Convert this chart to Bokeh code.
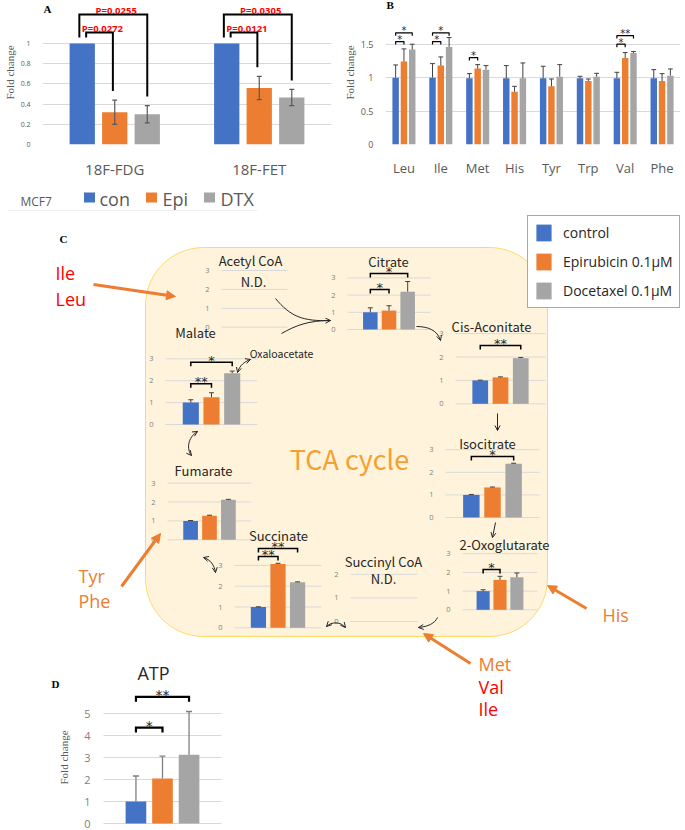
import numpy as np
from bokeh.plotting import figure
from bokeh.layouts import column, row
from bokeh.models import (Range1d, FactorRange, FixedTicker, Arrow, OpenHead, NormalHead,
                          Legend, LegendItem, ColumnDataSource, Label)
from bokeh.core.properties import value, field
from bokeh.embed import file_html
from bokeh.resources import INLINE

# ======================= DATA =======================
series_labels = ["control", "Epirubicin 0.1μM", "Docetaxel 0.1μM"]
series_short = ["con", "Epi", "DTX"]

# Panel A : PET tracer uptake (fold change)
tracers = ["18F-FDG", "18F-FET"]
a_con = [1.0, 1.0]
a_epi = [0.32, 0.56]
a_dtx = [0.30, 0.465]
a_con_err = [0.0, 0.0]
a_epi_err = [0.12, 0.115]
a_dtx_err = [0.085, 0.08]
a_p_epi = ["P=0.0272", "P=0.0121"]
a_p_dtx = ["P=0.0255", "P=0.0305"]

# Panel B : amino acids (fold change)
amino = ["Leu", "Ile", "Met", "His", "Tyr", "Trp", "Val", "Phe"]
b_con = [1.00, 1.00, 0.99, 0.99, 0.99, 0.99, 0.99, 0.99]
b_epi = [1.24, 1.18, 1.135, 0.79, 0.87, 0.95, 1.295, 0.95]
b_dtx = [1.42, 1.46, 1.12, 0.99, 1.015, 1.015, 1.37, 1.03]
b_con_err = [0.19, 0.21, 0.07, 0.19, 0.18, 0.03, 0.09, 0.13]
b_epi_err = [0.19, 0.13, 0.06, 0.08, 0.11, 0.03, 0.08, 0.11]
b_dtx_err = [0.08, 0.14, 0.06, 0.23, 0.18, 0.05, 0.02, 0.10]
b_sig = [("Leu", 1, "*"), ("Leu", 2, "*"), ("Ile", 1, "*"), ("Ile", 2, "*"),
         ("Met", 1, "*"), ("Val", 1, "*"), ("Val", 2, "**")]

# Panel C : TCA cycle metabolites (None = not detected)
metabolites = ["Acetyl CoA", "Citrate", "Cis-Aconitate", "Isocitrate", "2-Oxoglutarate",
               "Succinyl CoA", "Succinate", "Fumarate", "Malate"]
c_con = [None, 1.00, 1.00, 1.00, 1.00, None, 1.00, 1.00, 1.00]
c_epi = [None, 1.10, 1.13, 1.33, 1.60, None, 3.07, 1.27, 1.25]
c_dtx = [None, 2.20, 1.95, 2.38, 1.74, None, 2.19, 2.12, 2.34]
c_con_err = [None, 0.26, 0.01, 0.02, 0.07, None, 0.01, 0.02, 0.13]
c_epi_err = [None, 0.28, 0.02, 0.02, 0.19, None, 0.03, 0.03, 0.20]
c_dtx_err = [None, 0.59, 0.03, 0.02, 0.23, None, 0.02, 0.02, 0.10]
c_sig = [("Citrate", 1, "*"), ("Citrate", 2, "*"), ("Cis-Aconitate", 2, "**"),
         ("Isocitrate", 2, "*"), ("2-Oxoglutarate", 1, "*"), ("Succinate", 1, "**"),
         ("Succinate", 2, "**"), ("Malate", 1, "**"), ("Malate", 2, "*")]

# Panel D : ATP
atp = [1.00, 2.05, 3.13]
atp_err = [1.16, 1.01, 1.96]
d_sig = [(1, "*"), (2, "**")]

# ======================= STYLE / LAYOUT =======================
BLUE, ORANGE, GRAY = "#4472C4", "#ED7D31", "#A5A5A5"
COLORS = [BLUE, ORANGE, GRAY]
RED = "#FF0000"
GRID = "#D9D9D9"
OFF = [-0.225, 0.0, 0.225]
BW = 0.175
SANS = "Open Sans"
JP = "Noto Sans CJK JP"
SERIF = "Liberation Serif"
STAR = "DejaVu Sans"

A_LEVEL = {1: 1.11, 2: 1.287}
A_LEG_SHIFT = {1: (0.027, -0.013), 2: (-0.02, 0.0)}
B_LEVEL = {("Leu", 1): 1.54, ("Leu", 2): 1.67, ("Ile", 1): 1.54, ("Ile", 2): 1.67,
           ("Met", 1): 1.30, ("Val", 1): 1.50, ("Val", 2): 1.63}

# canvas for panels C and D uses page pixel coordinates
CX0, CX1, CY0, CY1 = 0, 685, 185, 830
MINI = {
    "Acetyl CoA":     dict(gx=(221, 287), base=326.7, u=18.9, nt=3, title=(250, 260)),
    "Citrate":        dict(gx=(347, 430), base=329.0, u=17.2, nt=3, title=(388, 261)),
    "Cis-Aconitate":  dict(gx=(455, 545), base=403.3, u=23.4, nt=3, title=(491, 326)),
    "Isocitrate":     dict(gx=(445, 539), base=517.0, u=22.6, nt=3, title=(487, 443)),
    "2-Oxoglutarate": dict(gx=(462, 537), base=609.3, u=18.7, nt=3, title=(504, 544)),
    "Succinyl CoA":   dict(gx=(350, 417), base=621.0, u=23.6, nt=2, title=(383, 561)),
    "Succinate":      dict(gx=(234, 321), base=627.3, u=20.8, nt=3, title=(278, 535)),
    "Fumarate":       dict(gx=(167, 251), base=539.3, u=18.9, nt=3, title=(203, 470)),
    "Malate":         dict(gx=(165, 257), base=424.0, u=21.9, nt=3, title=(195, 332)),
}
ND_POS = {"Acetyl CoA": (253, 281), "Succinyl CoA": (383, 578)}
C_LEVEL = {("Citrate", 1): 2.33, ("Citrate", 2): 3.26, ("Cis-Aconitate", 2): 2.49,
           ("Isocitrate", 2): 2.70, ("2-Oxoglutarate", 1): 2.16, ("Succinate", 1): 3.43,
           ("Succinate", 2): 3.81, ("Malate", 1): 1.86, ("Malate", 2): 2.84}
D_LAYOUT = dict(gx=(103, 221), base=823.0, u=22.0, nt=5)
D_LEVEL = {1: 4.36, 2: 5.76}

MINI_ST = dict(tick_dx=12, tick_size="7.5px", err_color="#404040", err_w=1, cap=2.5,
               leg=4, br_w=1.5, star_size="13px", star_dy=2)
D_ST = dict(tick_dx=13, tick_size="11px", err_color="#808080", err_w=1.3, cap=3,
            leg=5, br_w=2.2, star_size="14px", star_dy=2)

CURVES = [  # x0,y0, cx0,cy0, cx1,cy1, x1,y1, head_at_start, head_at_end
    (275, 298, 290, 316, 302, 321, 330, 320, False, True),
    (281, 333, 295, 325, 308, 320, 330, 320, False, False),
    (416, 326, 428, 326, 437, 330, 440, 340, False, True),
    (497, 413, 497, 419, 497, 424, 497, 430, False, True),
    (495, 522, 494, 527, 493, 532, 492, 537, False, True),
    (437, 617, 434, 623, 428, 626, 418, 627, False, True),
    (345, 627, 340, 621, 331, 621, 326, 626, True, True),
    (203, 557, 210, 559, 214, 565, 215, 572, True, True),
    (197, 431, 187, 437, 186, 449, 191, 455, True, True),
    (237, 372, 239, 365, 244, 361, 250, 359, True, True),
]
ORANGE_ARROWS = [(93, 284, 175, 296), (121, 586, 160, 533), (586, 608, 547, 585), (470, 663, 423, 633)]
SIDE_TEXT = [("Ile", 55, 272, RED), ("Leu", 55, 298, RED), ("Tyr", 78, 575, ORANGE),
             ("Phe", 78, 600, ORANGE), ("His", 602, 614, ORANGE), ("Met", 478, 663, ORANGE),
             ("Val", 478, 686, RED), ("Ile", 478, 708, RED)]


def fig(**kw):
    p = figure(output_backend="svg", toolbar_location=None, **kw)
    p.outline_line_color = None
    p.background_fill_color = "white"
    p.border_fill_color = "white"
    return p


def style_axes(p, ticks, tick_size, xlab_size, xlab_standoff, ylab_size, overrides):
    tk = FixedTicker(ticks=ticks)
    p.yaxis.ticker = tk
    p.ygrid.ticker = tk
    p.ygrid.grid_line_color = GRID
    p.xgrid.grid_line_color = None
    p.yaxis.major_label_overrides = overrides
    for ax in (p.xaxis[0], p.yaxis[0]):
        ax.axis_line_color = None
        ax.major_tick_line_color = None
        ax.minor_tick_line_color = None
        ax.major_label_text_color = "#595959"
        ax.major_label_text_font = SANS
    p.yaxis.major_label_text_font_size = tick_size
    p.yaxis.major_label_standoff = 6
    p.xaxis.major_label_text_font_size = xlab_size
    p.xaxis.major_label_standoff = xlab_standoff
    p.yaxis.axis_label = "Fold change"
    p.yaxis.axis_label_text_font = SERIF
    p.yaxis.axis_label_text_font_style = "normal"
    p.yaxis.axis_label_text_font_size = ylab_size
    p.yaxis.axis_label_text_color = "#595959"
    p.yaxis.axis_label_standoff = 2


def panel_letter(p, letter, sx, sy):
    p.add_layout(Label(x=sx, y=sy, x_units="screen", y_units="screen", text=letter,
                       text_align="left", text_baseline="middle", text_font=SERIF,
                       text_font_size="11px", text_font_style="bold", text_color="black"))


# ======================= PANEL A =======================
pa = fig(width=340, height=185, x_range=FactorRange(*tracers, range_padding=0),
         y_range=Range1d(0, 1.426), min_border_left=30, min_border_right=9,
         min_border_top=0, min_border_bottom=41)
style_axes(pa, [0, 0.2, 0.4, 0.6, 0.8, 1], "7px", "15px", 8, "11px", {0: "0", 1: "1"})
a_sets = [(a_con, a_con_err), (a_epi, a_epi_err), (a_dtx, a_dtx_err)]
for j, (vals, errs) in enumerate(a_sets):
    xs = [i + 0.5 + OFF[j] for i in range(len(tracers))]
    pa.vbar(x=xs, top=vals, width=BW, fill_color=COLORS[j], line_color=None)
    ex = [x for x, e in zip(xs, errs) if e > 0]
    lo = [v - e for v, e in zip(vals, errs) if e > 0]
    hi = [v + e for v, e in zip(vals, errs) if e > 0]
    if ex:
        cap = 0.017
        pa.segment(x0=ex, y0=lo, x1=ex, y1=hi, line_color="#595959", line_width=1.2)
        pa.segment(x0=[x - cap for x in ex], y0=hi, x1=[x + cap for x in ex], y1=hi,
                   line_color="#595959", line_width=1.2)
        pa.segment(x0=[x - cap for x in ex], y0=lo, x1=[x + cap for x in ex], y1=lo,
                   line_color="#595959", line_width=1.2)
for i in range(len(tracers)):
    for j, plab in ((1, a_p_epi[i]), (2, a_p_dtx[i])):
        vals, errs = a_sets[j]
        xl = i + 0.5 + OFF[0] + A_LEG_SHIFT[j][0]
        xr = i + 0.5 + OFF[j] + A_LEG_SHIFT[j][1]
        lev = A_LEVEL[j]
        pa.line(x=[xl, xl, xr, xr], y=[a_con[i] + 0.06, lev, lev, vals[i] + errs[i] + 0.09],
                line_color="black", line_width=2, line_join="miter")
        pa.text(x=[(xl + xr) / 2 + 0.02], y=[lev + 0.038], text=[plab], text_align="center",
                text_baseline="alphabetic", text_font=value(SANS), text_font_size="9.5px",
                text_font_style="bold", text_color=RED)
panel_letter(pa, "A", 1, 136)

# ======================= PANEL B =======================
pb = fig(width=345, height=185, x_range=FactorRange(*amino, range_padding=0),
         y_range=Range1d(0, 2.154), min_border_left=37, min_border_right=5,
         min_border_top=0, min_border_bottom=37)
style_axes(pb, [0, 0.5, 1, 1.5], "9px", "13px", 8, "11px", {0: "0", 1: "1"})
b_sets = [(b_con, b_con_err), (b_epi, b_epi_err), (b_dtx, b_dtx_err)]
for j, (vals, errs) in enumerate(b_sets):
    xs = [i + 0.5 + OFF[j] for i in range(len(amino))]
    pb.vbar(x=xs, top=vals, width=BW, fill_color=COLORS[j], line_color=None)
    hi = [v + e for v, e in zip(vals, errs)]
    cap = 0.065
    pb.segment(x0=xs, y0=vals, x1=xs, y1=hi, line_color="#404040", line_width=1)
    pb.segment(x0=[x - cap for x in xs], y0=hi, x1=[x + cap for x in xs], y1=hi,
               line_color="#404040", line_width=1)
for cat, j, lab in b_sig:
    i = amino.index(cat)
    lev = B_LEVEL[(cat, j)]
    x0 = i + 0.5 + OFF[0]
    x1 = i + 0.5 + OFF[j]
    pb.line(x=[x0, x0, x1, x1], y=[lev - 0.045, lev, lev, lev - 0.045], line_color="black",
            line_width=1.2)
    pb.text(x=[(x0 + x1) / 2], y=[lev + 0.03], text=[lab], text_align="center",
            text_baseline="middle", text_font=value(STAR), text_font_size="10px",
            text_color="#262626")
panel_letter(pb, "B", 1, 140)

# ======================= PANELS C + D (canvas) =======================
pc = fig(width=685, height=645, x_range=Range1d(CX0, CX1), y_range=Range1d(CY1, CY0),
         min_border=0, min_border_left=0, min_border_right=0, min_border_top=0,
         min_border_bottom=0, x_axis_type=None, y_axis_type=None)
pc.xgrid.visible = False
pc.ygrid.visible = False

charts = {name: MINI[name] for name in metabolites}
charts["ATP"] = D_LAYOUT
xranges, yranges = {}, {}
for name, L in charts.items():
    gx0, gx1 = L["gx"]
    w = gx1 - gx0
    xranges["x_" + name] = Range1d((CX0 - gx0) / w, (CX1 - gx0) / w)
    yranges["y_" + name] = Range1d(-(CY1 - L["base"]) / L["u"], (L["base"] - CY0) / L["u"])
pc.extra_x_ranges = xranges
pc.extra_y_ranges = yranges


def rounded(x0, y0, x1, y1, r, n=16):
    xs, ys = [], []
    for cx, cy, a0, a1 in [(x1 - r, y0 + r, -90, 0), (x1 - r, y1 - r, 0, 90),
                           (x0 + r, y1 - r, 90, 180), (x0 + r, y0 + r, 180, 270)]:
        t = np.radians(np.linspace(a0, a1, n))
        xs += list(cx + r * np.cos(t))
        ys += list(cy + r * np.sin(t))
    return xs, ys


bx, by = rounded(145, 247, 547, 636, 58)
pc.patch(bx, by, fill_color="#FFF4DB", line_color="#FFD966", line_width=1)

# MCF7 legend row of panel A
pc.line([8, 257], [210, 210], line_color="#EFEFEF", line_width=1)
pc.text(x=[20], y=[201], text=["MCF7"], text_baseline="middle", text_font=value(SANS),
        text_font_size="12px", text_color="#595959")
pc.rect(x=[89, 151, 209], y=[197, 197, 197], width=11, height=10, fill_color=COLORS,
        line_color=None)
pc.text(x=[99, 162, 220], y=[198.5] * 3, text=series_short, text_baseline="middle",
        text_font=value(SANS), text_font_size="18px", text_color="#595959")

pc.text(x=[63], y=[238], text=["C"], text_align="center", text_baseline="middle",
        text_font=value(SERIF), text_font_size="11px", text_font_style="bold",
        text_color="black")


def draw_chart(name, L, vals, errs, ticks, sigs, st):
    gx0, gx1 = L["gx"]
    w = gx1 - gx0
    u = L["u"]
    kw = dict(x_range_name="x_" + name, y_range_name="y_" + name)
    pc.segment(x0=[0] * len(ticks), x1=[1] * len(ticks), y0=ticks, y1=ticks,
               line_color=GRID, line_width=1, **kw)
    pc.text(x=[-st["tick_dx"] / w] * len(ticks), y=ticks, text=[str(t) for t in ticks],
            text_align="right", text_baseline="middle", text_font=value(SANS),
            text_font_size=st["tick_size"], text_color="#808080", **kw)
    if vals is None or vals[0] is None:
        return None
    xs = [0.5 + o for o in OFF]
    src = ColumnDataSource(dict(x=xs, top=vals, color=COLORS))
    r = pc.vbar(x="x", top="top", width=BW, fill_color=field("color"), line_color=None,
                source=src, **kw)
    hi = [v + e for v, e in zip(vals, errs)]
    c = st["cap"] / w
    pc.segment(x0=xs, y0=vals, x1=xs, y1=hi, line_color=st["err_color"],
               line_width=st["err_w"], **kw)
    pc.segment(x0=[x - c for x in xs], y0=hi, x1=[x + c for x in xs], y1=hi,
               line_color=st["err_color"], line_width=st["err_w"], **kw)
    for j, lab, lev in sigs:
        leg = st["leg"] / u
        x0, x1 = xs[0], xs[j]
        pc.line(x=[x0, x0, x1, x1], y=[lev - leg, lev, lev, lev - leg], line_color="black",
                line_width=st["br_w"], line_join="miter", **kw)
        pc.text(x=[(x0 + x1) / 2], y=[lev + st["star_dy"] / u], text=[lab],
                text_align="center", text_baseline="middle", text_font=value(STAR),
                text_font_size=st["star_size"], text_color="#262626", **kw)
    return r


bar_renderers = {}
for k, name in enumerate(metabolites):
    L = MINI[name]
    vals = None if c_con[k] is None else [c_con[k], c_epi[k], c_dtx[k]]
    errs = None if c_con[k] is None else [c_con_err[k], c_epi_err[k], c_dtx_err[k]]
    sigs = [(j, lab, C_LEVEL[(m, j)]) for m, j, lab in c_sig if m == name]
    bar_renderers[name] = draw_chart(name, L, vals, errs, list(range(L["nt"] + 1)), sigs, MINI_ST)
    tx, ty = L["title"]
    pc.text(x=[tx], y=[ty], text=[name], text_align="center", text_baseline="middle",
            text_font=value(JP), text_font_size="13px", text_color="#262626")
    if name in ND_POS:
        nx, ny = ND_POS[name]
        pc.text(x=[nx], y=[ny], text=["N.D."], text_align="center", text_baseline="middle",
                text_font=value(JP), text_font_size="13px", text_color="#262626")

pc.text(x=[281], y=[353], text=["Oxaloacetate"], text_align="center", text_baseline="middle",
        text_font=value(JP), text_font_size="10.5px", text_color="#262626")
pc.text(x=[349], y=[458], text=["TCA cycle"], text_align="center", text_baseline="middle",
        text_font=value(JP), text_font_size="27px", text_color="#F5A031")

for (x0, y0, cx0, cy0, cx1, cy1, x1, y1, hs, he) in CURVES:
    pc.bezier(x0=[x0], y0=[y0], x1=[x1], y1=[y1], cx0=[cx0], cy0=[cy0], cx1=[cx1], cy1=[cy1],
              line_color="#262626", line_width=1)
    if he:
        pc.add_layout(Arrow(end=OpenHead(size=5, line_width=1, line_color="#262626"),
                            x_start=cx1, y_start=cy1, x_end=x1, y_end=y1, line_alpha=0))
    if hs:
        pc.add_layout(Arrow(end=OpenHead(size=5, line_width=1, line_color="#262626"),
                            x_start=cx0, y_start=cy0, x_end=x0, y_end=y0, line_alpha=0))

for (x0, y0, x1, y1) in ORANGE_ARROWS:
    pc.add_layout(Arrow(end=NormalHead(size=9, fill_color=ORANGE, line_color=ORANGE, line_width=1),
                        x_start=x0, y_start=y0, x_end=x1, y_end=y1, line_color=ORANGE,
                        line_width=3))
pc.text(x=[t[1] for t in SIDE_TEXT], y=[t[2] for t in SIDE_TEXT], text=[t[0] for t in SIDE_TEXT],
        text_color=[t[3] for t in SIDE_TEXT], text_baseline="middle", text_font=value(SANS),
        text_font_size="18px")

rm = bar_renderers["Malate"]
leg = Legend(items=[LegendItem(label=series_labels[j], renderers=[rm], index=j) for j in range(3)],
             location=(527, 522), orientation="vertical", glyph_width=19, glyph_height=21,
             label_standoff=10, spacing=8, padding=6, margin=0,
             label_text_font=SANS, label_text_font_size="14px", label_text_color="#262626",
             border_line_color="#2F5597", border_line_width=1.5,
             background_fill_color="white", background_fill_alpha=1.0)
pc.add_layout(leg)

# ---- Panel D : ATP ----
d_sigs = [(j, lab, D_LEVEL[j]) for j, lab in d_sig]
draw_chart("ATP", D_LAYOUT, atp, atp_err, list(range(D_LAYOUT["nt"] + 1)), d_sigs, D_ST)
pc.text(x=[153], y=[672], text=["ATP"], text_align="center", text_baseline="middle",
        text_font=value(SANS), text_font_size="18px", text_color="#262626")
pc.text(x=[55], y=[683], text=["D"], text_align="center", text_baseline="middle",
        text_font=value(SERIF), text_font_size="11px", text_font_style="bold", text_color="black")
pc.text(x=[63], y=[757], text=["Fold change"], angle=np.pi / 2, text_align="center",
        text_baseline="middle", text_font=value(SERIF), text_font_size="11px",
        text_color="#595959")

layout = column(row(pa, pb), pc)
open("out.html", "w").write(file_html(layout, INLINE))
